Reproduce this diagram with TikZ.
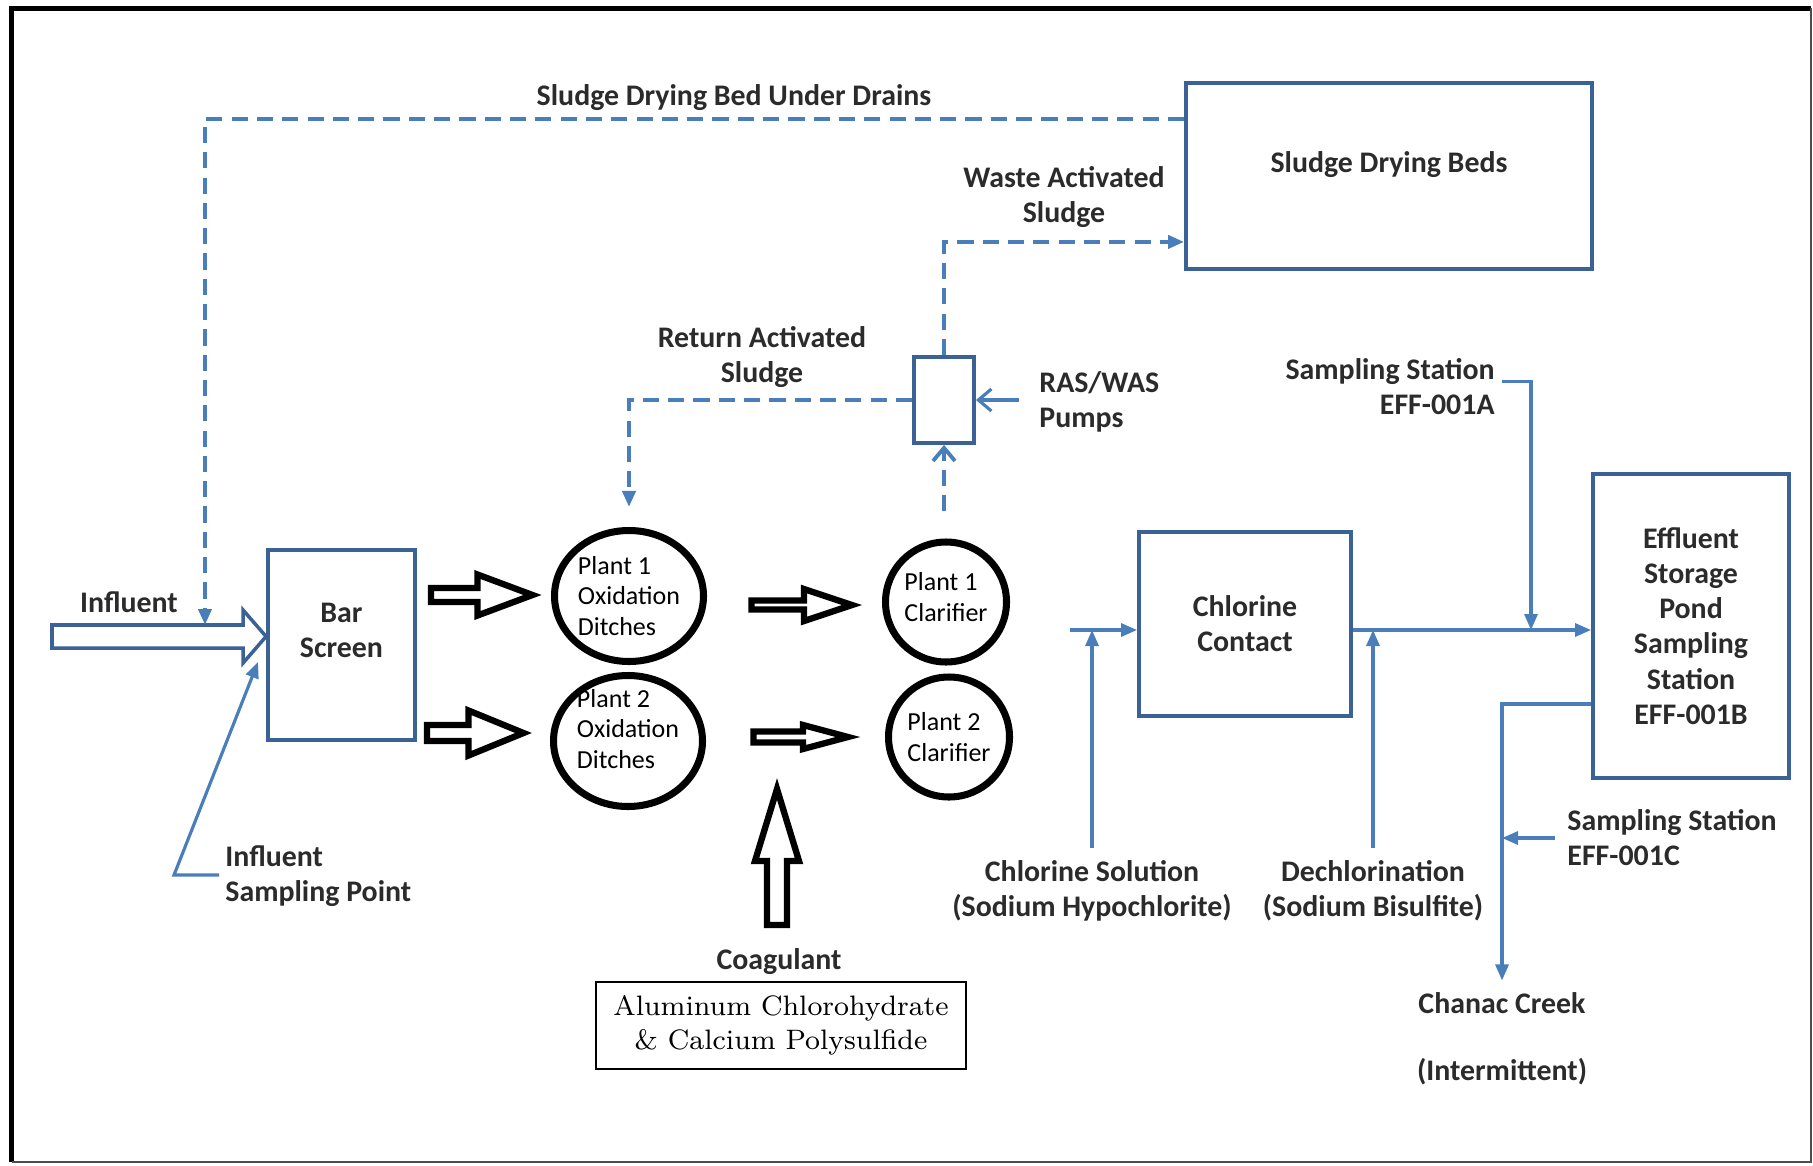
\documentclass[tikz,border=0pt]{standalone}
\usepackage{fontspec}
\usetikzlibrary{arrows.meta, calc, shapes.geometric, positioning}
\newfontfamily\calib{Carlito}
\definecolor{boxblue}{HTML}{3B6294}
\definecolor{lineblue}{HTML}{4A7EBB}
\definecolor{txt}{HTML}{2B2B2B}

\begin{document}
\begin{tikzpicture}[
    unit/.style={draw=boxblue, line width=1.1pt, align=center, text=txt,
                 font=\calib\bfseries\fontsize{8.5}{10}\selectfont},
    tanktxt/.style={align=left, font=\calib\fontsize{7.4}{8.6}\selectfont},
    tank/.style={draw=black, ellipse, line width=2pt, inner sep=-0.1cm, tanktxt},
    od/.style={tank, minimum width=1.49cm, minimum height=1.31cm},
    clar/.style={tank, minimum width=1.21cm, minimum height=1.20cm},
    lbl/.style={align=center, text=txt, font=\calib\bfseries\fontsize{8.5}{10}\selectfont},
    flow/.style={draw=lineblue, line width=0.9pt},
    sludge/.style={draw=lineblue, line width=1.1pt, dash pattern=on 4.6pt off 2.6pt},
    flowtip/.style={-{Triangle[length=1.6mm, width=1.3mm]}},
    opentip/.style={-{Straight Barb[length=1.3mm, width=2.2mm]}},
    hollow/.style={draw=black, line width=1.8pt, fill=white},
    hollowblue/.style={draw=boxblue, line width=1pt, fill=white},
    fat/.style n args={3}{to path={
        ($(\tikztostart)!#1!90:(\tikztotarget)$)
        -- ($(\tikztotarget)!#3!(\tikztostart)!#1!90:(\tikztotarget)$)
        -- ($(\tikztotarget)!#3!(\tikztostart)!#2!90:(\tikztotarget)$)
        -- (\tikztotarget)
        -- ($(\tikztotarget)!#3!(\tikztostart)!#2!-90:(\tikztotarget)$)
        -- ($(\tikztotarget)!#3!(\tikztostart)!#1!-90:(\tikztotarget)$)
        -- ($(\tikztostart)!#1!-90:(\tikztotarget)$) -- cycle}}]

\useasboundingbox (0,0) rectangle (18.13,11.65);

% frame
\draw[line width=1.5pt, black] (0.115,0.03) -- (0.115,11.565) -- (18.11,11.565);
\draw[line width=0.8pt, black!70] (18.11,11.565) -- (18.11,0.03) -- (0.115,0.03);

% process units
\node[unit, minimum width=4.06cm, minimum height=1.86cm,
      label={[lbl, yshift=0.11cm]center:Sludge Drying Beds}] (beds) at (13.89,9.89) {};
\node[unit, minimum width=1.47cm, minimum height=1.90cm,
      label={[lbl, yshift=0.15cm]center:Bar\\Screen}] (bar) at (3.415,5.20) {};
\node[unit, minimum width=0.60cm, minimum height=0.86cm] (pump) at (9.44,7.65) {};
\node[unit, minimum width=2.12cm, minimum height=1.84cm] (chlor) at (12.45,5.41) {Chlorine\\Contact};
\node[unit, minimum width=1.96cm, minimum height=3.04cm] (eff) at (16.91,5.39)
     {Effluent\\Storage\\Pond\\Sampling\\Station\\EFF-001B};

% ditches and clarifiers
\node[od]   (od1) at (6.29,5.69) {Plant 1\\Oxidation\\Ditches};
\node[od, label={[tanktxt, yshift=0.12cm]center:Plant 2\\Oxidation\\Ditches}]
            (od2) at (6.28,4.24) {};
\node[clar, label={[tanktxt, yshift=0.05cm]center:Plant 1\\Clarifier}]
            (cl1) at (9.46,5.63) {};
\node[clar] (cl2) at (9.49,4.28) {Plant 2\\Clarifier};

\node[draw=black, line width=0.6pt, minimum width=3.70cm, minimum height=0.87cm, align=center,
      font=\fontsize{8.0}{9.7}\selectfont] (chem) at (7.81,1.395)
     {Aluminum Chlorohydrate\\\& Calcium Polysulfide};

% labels
\node[lbl] (lDrains) at (7.34,10.67) {Sludge Drying Bed Under Drains};
\node[lbl] (lWAS)    at (10.64,9.68) {Waste Activated\\Sludge};
\node[lbl] (lRAS)    at (7.62,8.08)  {Return Activated\\Sludge};
\node[lbl, anchor=west, align=left] (lPump) at (10.27,7.63) {RAS/WAS\\Pumps};
\node[lbl] (lInf)    at (1.29,5.63)  {Influent};
\node[lbl, anchor=west, align=left] (lInfS) at (2.13,2.885) {Influent\\Sampling Point};
\node[lbl] (lCoag)   at (7.79,2.03)  {Coagulant};
\node[lbl, anchor=east, align=right] (lSolA) at (15.07,7.785) {Sampling Station\\EFF-001A};
\node[lbl] (lCl)     at (10.92,2.74) {Chlorine Solution\\(Sodium Hypochlorite)};
\node[lbl] (lDe)     at (13.73,2.74) {Dechlorination\\(Sodium Bisulfite)};
\node[lbl, anchor=west, align=left] (lSolC) at (15.55,3.27) {Sampling Station\\EFF-001C};
\node[lbl] (lCreek)  at (15.02,1.26) {Chanac Creek\\[9pt](Intermittent)};

% free ends
\coordinate (infS)   at (0.52,5.285);
\coordinate (infE)   at (bar.west |- infS);
\coordinate (drIn)   at (2.05,5.40);
\coordinate (isTip)  at (2.58,5.03);
\coordinate (pumpIn) at (10.19,7.65);
\coordinate (clIn)   at (10.70,5.35);
\coordinate (sA)     at (15.31,5.35);
\coordinate (cgs)    at (7.77,2.40);
\coordinate (cgt)    at (7.77,3.76);
\coordinate (a1s) at ($(bar.east |- od1)+(0.14,0.01)$);
\coordinate (a1e) at ($(od1.west)+(-0.185,0.01)$);
\coordinate (a2s) at ($(bar.east |- od2)+(0.10,0.08)$);
\coordinate (a2e) at ($(od2.west)+(-0.265,0.08)$);
\coordinate (a3s) at ($(od1.east)+(0.445,-0.09)$);
\coordinate (a3e) at ($(cl1.west)+(-0.30,-0.03)$);
\coordinate (a4s) at ($(od2.east)+(0.475,0.04)$);
\coordinate (a4e) at ($(cl2.west)+(-0.37,0)$);

% hollow arrows
\draw[hollowblue] (infS) to[fat={0.115cm}{0.265cm}{0.23cm}] (infE);
\draw[hollow] (a1s) to[fat={0.07cm}{0.205cm}{0.55cm}] (a1e);
\draw[hollow] (a2s) to[fat={0.08cm}{0.225cm}{0.55cm}] (a2e);
\draw[hollow] (a3s) to[fat={0.045cm}{0.16cm}{0.48cm}] (a3e);
\draw[hollow] (a4s) to[fat={0.055cm}{0.12cm}{0.45cm}] (a4e);
\draw[hollow] (cgs) to[fat={0.10cm}{0.22cm}{0.72cm}] (cgt);

% sludge lines
\draw[sludge, flowtip] ($(beds.north west)+(0,-0.38)$) -| (drIn);
\draw[sludge, flowtip, shorten >=0.2cm] (pump.west) -| (od1.north);
\draw[sludge, opentip, shorten <=0.27cm] (pump.south |- cl1.north) -- (pump.south);
\draw[sludge, flowtip] (pump.north) |- ($(beds.south west)+(0,0.29)$);
\draw[flow, opentip] (pumpIn) -- (pump.east);

% influent sampling
\draw[flow, flowtip] ($(lInfS.west)+(0.06,0.015)$) -- ++(-0.45,0) -- (isTip);

% effluent side
\draw[flow, flowtip] (clIn) -- (chlor.west |- clIn);
\draw[flow, flowtip] (lCl.north) -- (lCl.north |- clIn);
\draw[flow, flowtip] (chlor.east |- clIn) -- (eff.west |- clIn);
\draw[flow, flowtip] (lDe.north) -- (lDe.north |- clIn);
\draw[flow, flowtip] ($(lSolA.east)+(-0.05,0.05)$) -| (sA);
\draw[flow, flowtip] ($(eff.south west)+(0,0.76)$) -| (lCreek.north);
\draw[flow, flowtip] (lSolC.west) -- (lCreek.north |- lSolC.west);

\end{tikzpicture}
\end{document}
